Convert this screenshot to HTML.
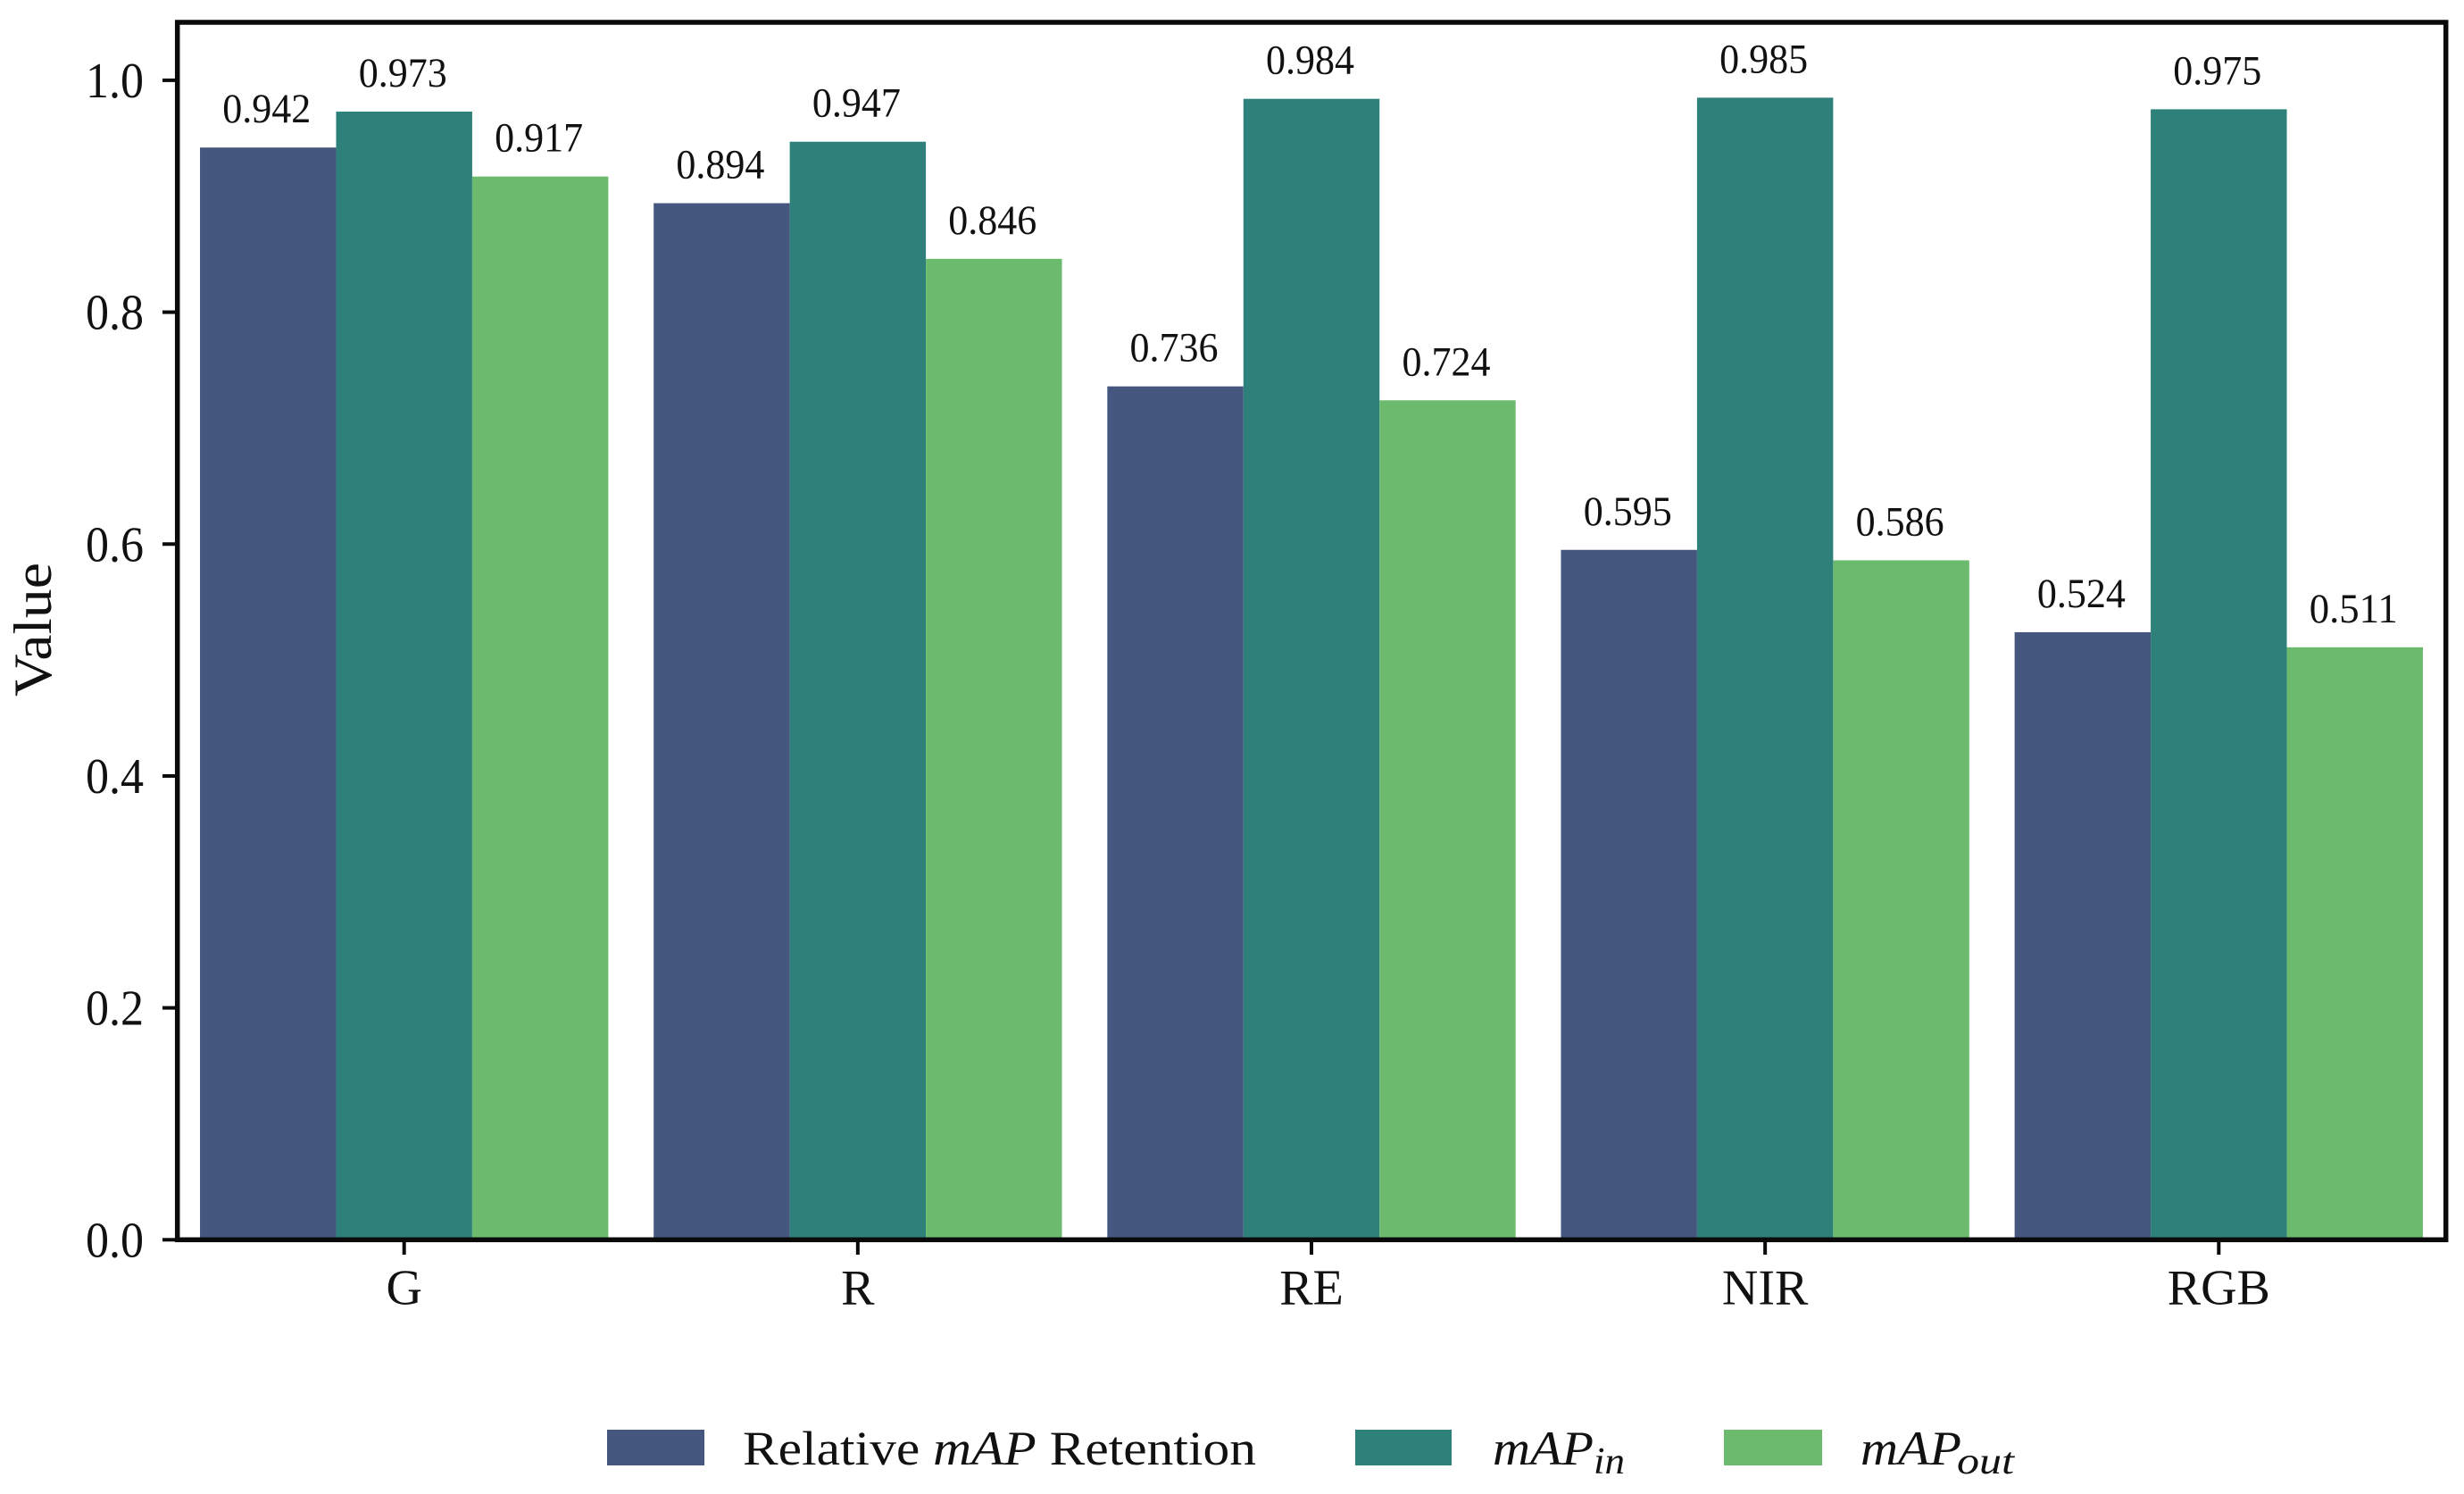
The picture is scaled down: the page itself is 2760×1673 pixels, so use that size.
<!DOCTYPE html>
<html>
<head>
<meta charset="utf-8">
<title>Band comparison chart</title>
<style>
html,body{margin:0;padding:0;background:#fff;}
svg{display:block;font-family:"Liberation Serif",serif;fill:#111;}
</style>
</head>
<body>
<svg id="chart" xmlns="http://www.w3.org/2000/svg" width="2760" height="1673" viewBox="0 0 2760 1673">
  <rect x="0" y="0" width="2760" height="1673" fill="#ffffff"/>
  <g id="bars"></g>
  <g id="value-labels"></g>
  <g id="y-axis"></g>
  <g id="x-axis"></g>
  <rect x="198.7" y="25" width="2541" height="1363.3" fill="none" stroke="#0a0a0a" stroke-width="5.5"/>
  <text transform="translate(57,705) rotate(-90)" text-anchor="middle" font-size="60" textLength="150" lengthAdjust="spacingAndGlyphs">Value</text>
  <g>
    <g>
      <rect x="680" y="1601" width="109" height="40" fill="#45567f"/>
      <text x="832" y="1640" font-size="54" textLength="575" lengthAdjust="spacingAndGlyphs">Relative <tspan font-style="italic">mAP</tspan> Retention</text>
    </g>
    <g>
      <rect x="1518" y="1601" width="108" height="40" fill="#2e817b"/>
      <text x="1672" y="1640" font-size="54" font-style="italic" textLength="113" lengthAdjust="spacingAndGlyphs">mAP</text>
      <text x="1785" y="1650" font-size="42" font-style="italic" textLength="35" lengthAdjust="spacingAndGlyphs">in</text>
    </g>
    <g>
      <rect x="1931" y="1601" width="110" height="40" fill="#6bba6d"/>
      <text x="2084" y="1640" font-size="54" font-style="italic" textLength="113" lengthAdjust="spacingAndGlyphs">mAP</text>
      <text x="2192" y="1650" font-size="42" font-style="italic" textLength="64" lengthAdjust="spacingAndGlyphs">out</text>
    </g>
  </g>
</svg>
<script>
const categories = ["G", "R", "RE", "NIR", "RGB"];
const relativeMapRetention = [0.942, 0.894, 0.736, 0.595, 0.524];
const mapIn = [0.973, 0.947, 0.984, 0.985, 0.975];
const mapOut = [0.917, 0.846, 0.724, 0.586, 0.511];
const yTicks = [0.0, 0.2, 0.4, 0.6, 0.8, 1.0];

const NS = "http://www.w3.org/2000/svg";
const seriesList = [
  { key: "relative-map-retention", values: relativeMapRetention, color: "#45567f" },
  { key: "map-in", values: mapIn, color: "#2e817b" },
  { key: "map-out", values: mapOut, color: "#6bba6d" }
];
const firstCenter = 452.7, groupStep = 508.15, barWidth = groupStep * 0.3;
const yZero = 1388.3, yUnit = 1298.4;
function xScale(i) { return firstCenter + i * groupStep; }
function yScale(v) { return yZero - v * yUnit; }
function make(tag, parent) {
  const el = document.createElementNS(NS, tag);
  parent.appendChild(el);
  return el;
}
function setAll(el, attrs) {
  for (const k in attrs) el.setAttribute(k, attrs[k]);
}
const barsG = document.getElementById("bars");
const labelsG = document.getElementById("value-labels");
const yAxisG = document.getElementById("y-axis");
const xAxisG = document.getElementById("x-axis");

seriesList.forEach(function (s, si) {
  s.values.forEach(function (v, ci) {
    const left = xScale(ci) + (si - 1.5) * barWidth;
    const bar = make("rect", barsG);
    
    
    setAll(bar, { x: left, y: yScale(v), width: barWidth, height: yZero - yScale(v), fill: s.color });
    const label = make("text", labelsG);
    
    
    setAll(label, { x: left + barWidth / 2 - 1.5, y: yScale(v) - 28, "text-anchor": "middle", "font-size": 47, textLength: 99, lengthAdjust: "spacingAndGlyphs" });
    label.textContent = v.toFixed(3);
  });
});

yTicks.forEach(function (t) {
  const y = yScale(t);
  const mark = make("line", yAxisG);
  
  
  setAll(mark, { x1: 182, x2: 198, y1: y, y2: y, stroke: "#0a0a0a", "stroke-width": 4 });
  const text = make("text", yAxisG);
  
  
  setAll(text, { x: 161, y: y + 19, "text-anchor": "end", "font-size": 56, textLength: 65, lengthAdjust: "spacingAndGlyphs" });
  text.textContent = t.toFixed(1);
});

categories.forEach(function (c, i) {
  const x = xScale(i);
  const mark = make("line", xAxisG);
  
  
  setAll(mark, { x1: x, x2: x, y1: 1390, y2: 1405, stroke: "#0a0a0a", "stroke-width": 4 });
  const text = make("text", xAxisG);
  
  
  setAll(text, { x: x, y: 1460.5, "text-anchor": "middle", "font-size": 56 });
  text.textContent = c;
});
</script>
</body>
</html>
